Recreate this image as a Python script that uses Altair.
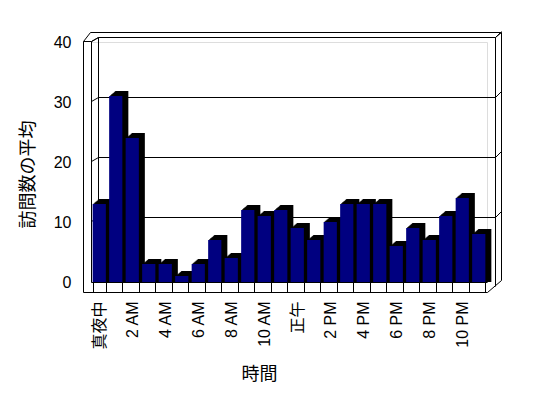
import altair as alt
import pandas as pd

# ---- data ----
hour_labels = ["真夜中", "1 AM", "2 AM", "3 AM", "4 AM", "5 AM", "6 AM", "7 AM",
               "8 AM", "9 AM", "10 AM", "11 AM", "正午", "1 PM", "2 PM", "3 PM",
               "4 PM", "5 PM", "6 PM", "7 PM", "8 PM", "9 PM", "10 PM", "11 PM"]
avg_visits = [13, 31, 24, 3, 3, 1, 3, 7, 4, 12, 11, 12,
              9, 7, 10, 13, 13, 13, 6, 9, 7, 11, 14, 8]
shown_labels = hour_labels[::2]
y_ticks = [0, 10, 20, 30, 40]
grid_vals = [10, 20, 30, 40]

df = pd.DataFrame({"hour": hour_labels, "visits": avg_visits})
grid_df = pd.DataFrame({"visits": grid_vals})
one = pd.DataFrame({"a": [0]})

W, H = 396, 240
FONT = "Liberation Sans, Noto Sans CJK JP"

shown_js = "[" + ",".join("'" + s + "'" for s in shown_labels) + "]"

xenc = alt.X("hour:N", sort=hour_labels,
             scale=alt.Scale(paddingInner=0.2, paddingOuter=0.1),
             axis=alt.Axis(title="時間", labelAngle=-90, domain=False,
                           ticks=True, tickBand="extent", tickSize=10,
                           tickColor="black", tickWidth=1, labelPadding=9,
                           labelExpr="indexof(" + shown_js + ", datum.value) >= 0 ? datum.value : ''",
                           labelFontSize=16, labelColor="black", labelFont=FONT,
                           labelLimit=300,
                           titleFontSize=18, titleFont=FONT, titleFontWeight="normal",
                           titleX=168, titleY=92, titleBaseline="middle",
                           titleAnchor="start", titleAlign="center", grid=False))
yaxis = alt.Axis(title="訪問数の平均", values=y_ticks, offset=8,
                 domain=False, ticks=False, labelPadding=12, grid=False,
                 labelFontSize=16, labelColor="black", labelFont=FONT,
                 titleFontSize=18, titleFont=FONT, titleFontWeight="normal",
                 titleAngle=270, titleX=-55, titleY=132,
                 titleBaseline="middle", titleAlign="center")
yscale = alt.Scale(domain=[0, 40], nice=False)
yenc = alt.Y("visits:Q", scale=yscale, axis=yaxis)


def seg(x1, y1, x2, y2):
    return alt.Chart(one).mark_rule(color="black", strokeWidth=1).encode(
        x=alt.value(x1 + 0.5), y=alt.value(y1 + 0.5),
        x2=alt.value(x2 + 0.5), y2=alt.value(y2 + 0.5))


B = H  # floor (back edge) line, plot bottom
# back wall and left wall (behind bars)
back = [
    seg(7, -5, 404, -5),      # inner top of back wall
    seg(-1, -10, 410, -10),   # outer top
    seg(7, -5, 7, B),         # inner back-left corner
    seg(0, -1, 0, B),         # left wall inner line
    seg(0, -1, 7, -5),
    seg(-8, -1, -1, -10),
    seg(-8, -1, 0, -1),
    seg(404, -5, 404, B + 4),  # right inner
    seg(410, -10, 410, B - 2),  # right outer
    seg(404, -5, 410, -10),
    seg(0, B, 396, B),        # floor back line
]

grid = alt.Chart(grid_df).mark_rule(color="black", yOffset=-4.5).encode(
    y=yenc, x=alt.value(7.5), x2=alt.value(404.5))
left_diag = alt.Chart(grid_df).mark_rule(color="black", yOffset=-0.5, y2Offset=-4.5).encode(
    y=yenc, y2="visits:Q", x=alt.value(0.5), x2=alt.value(7.5))
right_diag = alt.Chart(grid_df).mark_rule(color="black", yOffset=-4.5, y2Offset=-10.5).encode(
    y=yenc, y2="visits:Q", x=alt.value(404.5), x2=alt.value(410.5))

base = alt.Chart(df)
shadows = []
for k in range(1, 7):
    shadows.append(base.mark_bar(color="black", xOffset=k, yOffset=-k * 5 / 6,
                                 y2Offset=0).encode(x=xenc, y=yenc, y2=alt.datum(0)))
front = base.mark_bar(color="#000080").encode(x=xenc, y=yenc)

front_frame = [
    seg(-8, -1, -8, B + 10),       # front-left edge
    seg(-8, B + 10, 396, B + 10),  # floor front edge
    seg(396, B + 10, 410, B - 2),  # floor right diagonal
]

chart = alt.layer(*back, grid, left_diag, right_diag, *shadows, front, *front_frame).properties(
    width=W, height=H,
    autosize=alt.AutoSizeParams(type="none"),
    padding={"left": 83, "top": 34, "right": 45, "bottom": 100},
).configure_view(stroke=None, strokeWidth=0).configure_axis(
    grid=False, gridOpacity=0
).configure(background="white")

chart.save("out.html", embed_options={"renderer": "svg", "actions": False})
